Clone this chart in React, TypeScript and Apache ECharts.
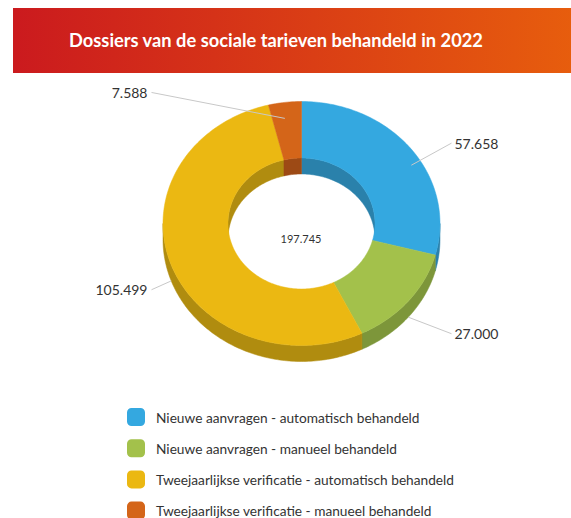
import React, { useEffect, useRef } from "react";
import * as echarts from "echarts";

const titleText = "Dossiers van de sociale tarieven behandeld in 2022";
const categories = [
  "Nieuwe aanvragen - automatisch behandeld",
  "Nieuwe aanvragen - manueel behandeld",
  "Tweejaarlijkse verificatie - automatisch behandeld",
  "Tweejaarlijkse verificatie - manueel behandeld",
];
const values = [57658, 27000, 105499, 7588];
const faceColors = ["#34a8e0", "#a3c14b", "#ebb812", "#d46519"];
const sideColors = ["#2a81ab", "#7d963a", "#b08c0f", "#9d4a15"];

const fmt = (n: number) => String(n).replace(/\B(?=(\d{3})+(?!\d))/g, ".");

export default function App() {
  const ref = useRef<HTMLDivElement>(null);
  useEffect(() => {
    document.body.style.margin = "0";
    const chart = echarts.init(ref.current!, null, { renderer: "svg" });
    const total = values.reduce((a, b) => a + b, 0);
    const starts: number[] = [];
    let acc = 0;
    values.forEach((v) => {
      starts.push((acc / total) * 360);
      acc += v;
    });
    const G = { cx: 301.5, cy: 223.5, rx: 138.5, ry: 122, rxi: 73.5, ryi: 65.5, d: 16 };
    const pt = (rx: number, ry: number, th: number, dy = 0) => {
      const r = (th * Math.PI) / 180;
      return [G.cx + rx * Math.sin(r), G.cy - ry * Math.cos(r) + dy];
    };
    const arc = (rx: number, ry: number, a: number, b: number, dy: number) => {
      const n = Math.max(2, Math.ceil(Math.abs(b - a)));
      const out: number[][] = [];
      for (let i = 0; i <= n; i++) out.push(pt(rx, ry, a + ((b - a) * i) / n, dy));
      return out;
    };
    const clip = (a: number, b: number, lo: number, hi: number) => {
      const s = Math.max(a, lo);
      const e = Math.min(b, hi);
      return e > s ? [s, e] : null;
    };

    const series = categories.map((name, i) => ({
      type: "custom",
      name,
      coordinateSystem: "none",
      silent: true,
      itemStyle: { color: faceColors[i] },
      data: [[starts[i], starts[i] + (values[i] / total) * 360, values[i]]],
      renderItem: (params: any, api: any) => {
        const a = api.value(0);
        const b = api.value(1);
        const v = api.value(2);
        const children: any[] = [];
        // inner walls (back half)
        for (const [lo, hi] of [[0, 90], [270, 360]]) {
          const c = clip(a, b, lo, hi);
          if (c) {
            children.push({
              type: "polygon",
              z2: 1,
              shape: { points: arc(G.rxi, G.ryi, c[0], c[1], 0).concat(arc(G.rxi, G.ryi, c[1], c[0], G.d)) },
              style: { fill: sideColors[i], stroke: sideColors[i], lineWidth: 0.5 },
            });
          }
        }
        // outer walls (front half)
        const f = clip(a, b, 90, 270);
        if (f) {
          children.push({
            type: "polygon",
            z2: 2,
            shape: { points: arc(G.rx, G.ry, f[0], f[1], 0).concat(arc(G.rx, G.ry, f[1], f[0], G.d)) },
            style: { fill: sideColors[i], stroke: sideColors[i], lineWidth: 0.5 },
          });
        }
        // top face
        children.push({
          type: "polygon",
          z2: 3,
          shape: { points: arc(G.rx, G.ry, a, b, 0).concat(arc(G.rxi, G.ryi, b, a, 0)) },
          style: { fill: faceColors[i], stroke: faceColors[i], lineWidth: 0.5 },
        });
        // label
        const m = (a + b) / 2;
        const rad = (m * Math.PI) / 180;
        const front = Math.cos(rad) < 0;
        const right = Math.sin(rad) >= 0;
        const anchor = pt(G.rx, G.ry, m, G.d);
        const ly = G.cy - Math.cos(rad) * (front ? G.ry + 26 : G.ry + 10) + (front ? G.d : 0);
        const lx = G.cx + (right ? 150 : -150);
        children.push({
          type: "polyline",
          z2: 4,
          shape: { points: [anchor, [lx, ly]] },
          style: { stroke: "#c8c8c8", lineWidth: 1, fill: "none" },
        });
        children.push({
          type: "text",
          z2: 5,
          style: {
            text: fmt(v),
            x: lx + (right ? 3 : -4),
            y: ly,
            fill: "#333",
            fontSize: 14,
            fontFamily: "Lato",
            align: right ? "left" : "right",
            verticalAlign: "middle",
          },
        });
        return { type: "group", children };
      },
    }));

    chart.setOption({
      animation: false,
      color: faceColors,
      title: {
        text: titleText,
        left: 276,
        top: 31,
        padding: 0,
        textAlign: "center",
        textStyle: { color: "#fff", fontSize: 18.3, fontWeight: "bold", fontFamily: "Lato" },
      },
      legend: {
        orient: "vertical",
        left: 127,
        top: 408,
        height: 140,
        padding: 0,
        itemWidth: 18,
        itemHeight: 18,
        itemGap: 13.2,
        icon: "roundRect",
        data: categories,
        textStyle: { fontSize: 13.7, color: "#333", fontFamily: "Lato", padding: [0, 0, 0, 6] },
      },
      graphic: [
        {
          type: "rect",
          z: -1,
          shape: { x: 13, y: 8, width: 600, height: 65 },
          style: {
            fill: new echarts.graphic.LinearGradient(0, 0, 1, 0, [
              { offset: 0, color: "#cb1a1e" },
              { offset: 1, color: "#e9620c" },
            ]),
          },
        },
        {
          type: "text",
          x: 301,
          y: 238,
          style: {
            text: fmt(total),
            fill: "#333",
            fontSize: 11,
            fontFamily: "Lato",
            align: "center",
            verticalAlign: "middle",
          },
        },
      ],
      series,
    });
    return () => chart.dispose();
  }, []);
  return <div ref={ref} style={{ width: 571, height: 518 }} />;
}
